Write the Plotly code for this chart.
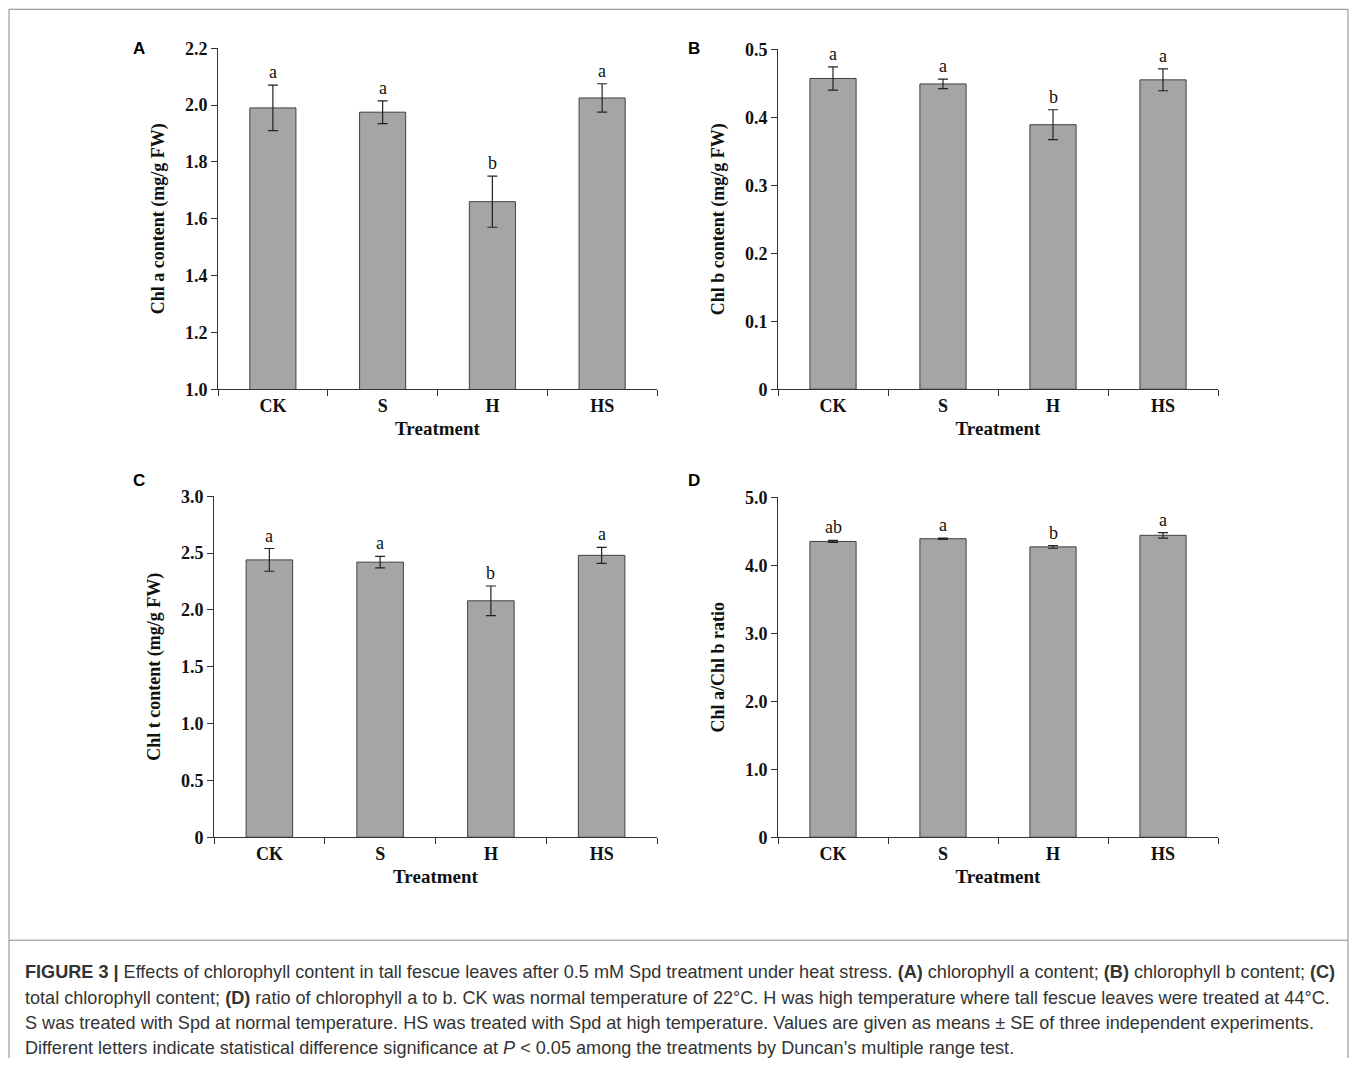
import plotly.graph_objects as go

cats = ["CK", "S", "H", "HS"]
chl_a = [1.99, 1.975, 1.66, 2.025]
chl_a_err = [0.08, 0.04, 0.09, 0.05]
chl_b = [0.457, 0.449, 0.389, 0.455]
chl_b_err = [0.017, 0.007, 0.022, 0.016]
chl_t = [2.44, 2.42, 2.08, 2.48]
chl_t_err = [0.10, 0.05, 0.13, 0.07]
ratio = [4.35, 4.39, 4.27, 4.44]
ratio_err = [0.015, 0.01, 0.02, 0.04]
letters_a = ["a", "a", "b", "a"]
letters_b = ["a", "a", "b", "a"]
letters_t = ["a", "a", "b", "a"]
letters_r = ["ab", "a", "b", "a"]

OFF = 8
W, H = 1357 - 2 * OFF, 1066 - 2 * OFF
def px(x): return (x - OFF) / W
def py(y):
    ys = (y - 9.9) / 0.981
    return 1 - (ys - OFF) / H

panels = [
    dict(v=chl_a, e=chl_a_err, l=letters_a, xd=(218, 657), yd=(48, 389), rng=[1.0, 2.2],
         tv=[1.0, 1.2, 1.4, 1.6, 1.8, 2.0, 2.2], tt=["1.0","1.2","1.4","1.6","1.8","2.0","2.2"],
         yt="Chl a content (mg/g FW)", lab="A", lp=(131, 37)),
    dict(v=chl_b, e=chl_b_err, l=letters_b, xd=(778, 1218), yd=(49, 389), rng=[0, 0.5],
         tv=[0, 0.1, 0.2, 0.3, 0.4, 0.5], tt=["0","0.1","0.2","0.3","0.4","0.5"],
         yt="Chl b content (mg/g FW)", lab="B", lp=(694, 37)),
    dict(v=chl_t, e=chl_t_err, l=letters_t, xd=(214, 657), yd=(496, 837), rng=[0, 3.0],
         tv=[0, 0.5, 1.0, 1.5, 2.0, 2.5, 3.0], tt=["0","0.5","1.0","1.5","2.0","2.5","3.0"],
         yt="Chl t content (mg/g FW)", lab="C", lp=(131, 480)),
    dict(v=ratio, e=ratio_err, l=letters_r, xd=(778, 1218), yd=(497, 837), rng=[0, 5.0],
         tv=[0, 1, 2, 3, 4, 5], tt=["0","1.0","2.0","3.0","4.0","5.0"],
         yt="Chl a/Chl b ratio", lab="D", lp=(694, 480)),
]

serif = "Liberation Serif, Times New Roman, serif"
sans = "Liberation Sans, Arial, sans-serif"
fig = go.Figure()
layout = {}
annotations = []
for i, p in enumerate(panels, start=1):
    xa = "x" if i == 1 else f"x{i}"
    ya = "y" if i == 1 else f"y{i}"
    fig.add_trace(go.Bar(x=cats, y=p["v"], xaxis=xa, yaxis=ya, width=0.42,
                         marker=dict(color="#a5a5a5", line=dict(color="#404040", width=1)),
                         error_y=dict(type="data", array=p["e"], color="#222", thickness=1.2, width=5),
                         showlegend=False))
    ax = dict(domain=[px(p["xd"][0]), px(p["xd"][1])], anchor=ya, type="category",
              tickson="boundaries", ticks="outside", ticklen=6, tickcolor="#333",
              showline=True, linecolor="#333", linewidth=1, showgrid=False,
              tickvals=cats, ticktext=[f"<b>{c}</b>" for c in cats],
              tickfont=dict(family=serif, size=18, color="#111"),
              title=dict(text="<b>Treatment</b>", font=dict(family=serif, size=19, color="#111"), standoff=6),
              range=[-0.5, 3.5])
    ayx = dict(domain=[py(p["yd"][1]), py(p["yd"][0])], anchor=xa, range=p["rng"],
               tickvals=p["tv"], ticktext=[f"<b>{t}</b>" for t in p["tt"]], ticks="outside", ticklen=6,
               tickcolor="#333", showline=True, linecolor="#333", linewidth=1, showgrid=False,
               zeroline=False, tickfont=dict(family=serif, size=18, color="#111"),
               title=dict(text=f"<b>{p['yt']}</b>", font=dict(family=serif, size=18, color="#111"), standoff=15))
    layout["xaxis" if i == 1 else f"xaxis{i}"] = ax
    layout["yaxis" if i == 1 else f"yaxis{i}"] = ayx
    for c, v, e, l in zip(cats, p["v"], p["e"], p["l"]):
        annotations.append(dict(x=c, y=v + e, xref=xa, yref=ya, text=l, showarrow=False,
                                yanchor="bottom", yshift=1, font=dict(family=serif, size=18, color="#111")))
    annotations.append(dict(x=px(p["lp"][0]), y=py(p["lp"][1]), xref="paper", yref="paper",
                            text=f"<b>{p['lab']}</b>", showarrow=False,
                            font=dict(family=sans, size=17, color="#000")))

caption = [
    "<b>FIGURE 3 |</b> Effects of chlorophyll content in tall fescue leaves after 0.5 mM Spd treatment under heat stress. <b>(A)</b> chlorophyll a content; <b>(B)</b> chlorophyll b content; <b>(C)</b>",
    "total chlorophyll content; <b>(D)</b> ratio of chlorophyll a to b. CK was normal temperature of 22°C. H was high temperature where tall fescue leaves were treated at 44°C.",
    "S was treated with Spd at normal temperature. HS was treated with Spd at high temperature. Values are given as means ± SE of three independent experiments.",
    "Different letters indicate statistical difference significance at <i>P</i> &lt; 0.05 among the treatments by Duncan’s multiple range test.",
]
for k, line in enumerate(caption):
    annotations.append(dict(x=px(23), y=py(972 + k * 25.3), xref="paper", yref="paper", text=line,
                            showarrow=False, xanchor="left", yanchor="middle",
                            font=dict(family=sans, size=18.1, color="#333")))

shapes = [
    dict(type="rect", xref="paper", yref="paper", x0=px(9), x1=px(1348), y0=py(1060), y1=py(9),
         line=dict(color="#888", width=1)),
    dict(type="line", xref="paper", yref="paper", x0=px(9), x1=px(1348), y0=py(940), y1=py(940),
         line=dict(color="#888", width=1)),
]

fig.update_layout(width=W, height=H, margin=dict(l=0, r=0, t=0, b=0), paper_bgcolor="white",
                  plot_bgcolor="white", annotations=annotations, shapes=shapes, **layout)
fig.write_html("out.html")
